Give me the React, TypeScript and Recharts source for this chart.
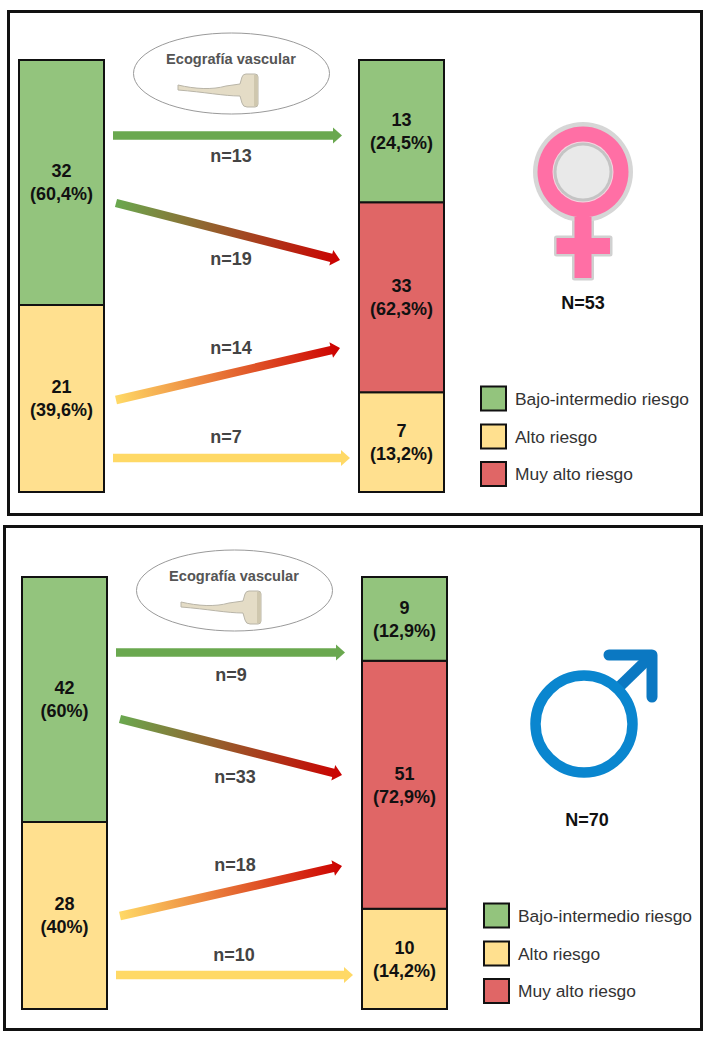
import { Bar, BarChart, LabelList, XAxis, YAxis } from "recharts";

const FONT = "'Liberation Sans', Arial, sans-serif";
const GREEN = "#93C47D";
const YELLOW = "#FFE08F";
const RED = "#E06666";

const PHASES = ["Basal", "Ecografía vascular"];
const LEGEND_NAMES = ["Bajo-intermedio riesgo", "Alto riesgo", "Muy alto riesgo"];

// block heights as drawn in the figure (% of column), they are not to scale with the counts
const WOMEN_LOW = [56.7, 32.9];
const WOMEN_HIGH = [43.3, 23.1];
const WOMEN_VERY_HIGH = [0, 44];
const MEN_LOW = [56.7, 19.4];
const MEN_HIGH = [43.3, 23.2];
const MEN_VERY_HIGH = [0, 57.4];

const WOMEN_LOW_LABELS = [["32", "(60,4%)"], ["13", "(24,5%)"]];
const WOMEN_HIGH_LABELS = [["21", "(39,6%)"], ["7", "(13,2%)"]];
const WOMEN_VERY_HIGH_LABELS = [null, ["33", "(62,3%)"]];
const MEN_LOW_LABELS = [["42", "(60%)"], ["9", "(12,9%)"]];
const MEN_HIGH_LABELS = [["28", "(40%)"], ["10", "(14,2%)"]];
const MEN_VERY_HIGH_LABELS = [null, ["51", "(72,9%)"]];

const WOMEN_FLOWS = ["n=13", "n=19", "n=14", "n=7"];
const MEN_FLOWS = ["n=9", "n=33", "n=18", "n=10"];

function blockLabel(labels: (string[] | null)[]) {
  // recharts drops the empty block from the label list, so count only the blocks that are drawn
  const drawn = labels.filter(Boolean) as string[][];
  return (props: any) => {
    const lines = drawn[props.index];
    if (!lines) return null;
    const cx = props.x + props.width / 2;
    const cy = props.y + props.height / 2;
    return (
      <g fontFamily={FONT} fontSize={18} fontWeight={700} fill="#111" textAnchor="middle">
        <text x={cx} y={cy - 5}>{lines[0]}</text>
        <text x={cx} y={cy + 18}>{lines[1]}</text>
      </g>
    );
  };
}

function Arrow({ id, from, to, colors, width = 8.5 }: any) {
  const [x1, y1] = from;
  const [x2, y2] = to;
  const len = Math.hypot(x2 - x1, y2 - y1);
  const ux = (x2 - x1) / len;
  const uy = (y2 - y1) / len;
  const nx = -uy;
  const ny = ux;
  const headLen = 9;
  const headW = 8;
  const bx = x2 - ux * headLen;
  const by = y2 - uy * headLen;
  const pts = [
    [x1 + nx * width / 2, y1 + ny * width / 2],
    [bx + nx * width / 2, by + ny * width / 2],
    [bx + nx * headW, by + ny * headW],
    [x2, y2],
    [bx - nx * headW, by - ny * headW],
    [bx - nx * width / 2, by - ny * width / 2],
    [x1 - nx * width / 2, y1 - ny * width / 2],
  ];
  return (
    <g>
      <defs>
        <linearGradient id={id} gradientUnits="userSpaceOnUse" x1={x1} y1={y1} x2={x2} y2={y2}>
          <stop offset="0%" stopColor={colors[0]} />
          <stop offset="100%" stopColor={colors[1]} />
        </linearGradient>
      </defs>
      <polygon points={pts.map((p) => p.join(",")).join(" ")} fill={`url(#${id})`} />
    </g>
  );
}

function Probe() {
  return (
    <g>
      <path
        d="M178 85 C195 89 212 90 226 86 L240 84 L242 77 Q243 74 246 74 L255 74 Q258 74 258 77 L258 104 Q258 107 255 107 L247 107 Q243 107 242 103 L240 96 C224 96 204 92 178 90 Z"
        fill="#E4DCC6"
        stroke="#B9B5A8"
        strokeWidth={1}
      />
      <rect x={254} y={75} width={3.5} height={31} fill="#CFC7AE" />
    </g>
  );
}

function FemaleIcon() {
  const cross = "M574.5 217 L591.5 217 L591.5 238 L610 238 L610 254 L591.5 254 L591.5 278 L574.5 278 L574.5 254 L556.5 254 L556.5 238 L574.5 238 Z";
  return (
    <g>
      <path d={cross} fill="#FF6FA5" stroke="#D0D0D0" strokeWidth={5} strokeLinejoin="round" />
      <circle cx={583} cy={172} r={50} fill="#D6D6D6" />
      <circle cx={583} cy={172} r={45.5} fill="#FF6FA5" />
      <circle cx={583} cy={172} r={30.5} fill="#F6D4E0" />
      <circle cx={583} cy={172} r={29.5} fill="#C4C4C4" />
      <circle cx={583} cy={172} r={26.5} fill="#E9E9E9" />
      <path d={cross} fill="#FF6FA5" />
    </g>
  );
}

function MaleIcon() {
  return (
    <g fill="none">
      <g stroke="#0B78C2" strokeWidth={11} strokeLinecap="round" strokeLinejoin="round">
        <path d="M616 690 L652 655" strokeLinecap="butt" />
        <path d="M609 655 L652 655 L652 697" />
      </g>
      <circle cx={584} cy={724} r={48.5} stroke="#0A86CF" strokeWidth={10.5} />
    </g>
  );
}

function Panel({ idPrefix, dx, dy, low, high, veryHigh, lowLabels, highLabels, veryHighLabels, flows, flowYs, arrows, total, totalPos, icon }: any) {
  const data = PHASES.map((phase, i) => ({ phase, low: low[i], high: high[i], veryHigh: veryHigh[i] }));
  const swatches = [GREEN, YELLOW, RED];
  const legendY = [398.5, 436.5, 474];
  const flowColors = [
    ["#6AA84F", "#6AA84F"],
    ["#6AA84F", "#CC0000"],
    ["#FFD966", "#CC0000"],
    ["#FFD966", "#FFD966"],
  ];
  return (
    <div style={{ position: "absolute", left: dx, top: dy, width: 711, height: 520 }}>
      <BarChart
        width={460}
        height={520}
        data={data}
        margin={{ top: 60, right: 16, bottom: 28, left: 18 }}
        style={{ position: "absolute", left: 0, top: 0 }}
      >
        <XAxis dataKey="phase" hide scale="point" padding={{ left: 43, right: 43 }} />
        <YAxis hide domain={[0, 100]} />
        <Bar dataKey="high" stackId="a" fill={YELLOW} stroke="#111" strokeWidth={2} barSize={85} isAnimationActive={false}>
          <LabelList content={blockLabel(highLabels)} />
        </Bar>
        <Bar dataKey="veryHigh" stackId="a" fill={RED} stroke="#111" strokeWidth={2} barSize={85} isAnimationActive={false}>
          <LabelList content={blockLabel(veryHighLabels)} />
        </Bar>
        <Bar dataKey="low" stackId="a" fill={GREEN} stroke="#111" strokeWidth={2} barSize={85} isAnimationActive={false}>
          <LabelList content={blockLabel(lowLabels)} />
        </Bar>
      </BarChart>
      <svg width={711} height={520} style={{ position: "absolute", left: 0, top: 0, overflow: "visible" }}>
        <ellipse cx={231.5} cy={73.5} rx={98} ry={40.5} fill="#fff" stroke="#9A9A9A" strokeWidth={1} />
        <text x={231} y={64} textAnchor="middle" fontFamily={FONT} fontSize={14.6} fontWeight={700} fill="#555">
          Ecografía vascular
        </text>
        <Probe />
        {arrows.map((a: any, i: number) => (
          <Arrow key={i} id={`${idPrefix}-flow-${i}`} from={a[0]} to={a[1]} colors={flowColors[i]} />
        ))}
        {flows.map((f: string, i: number) => (
          <text key={f} x={flowYs[i][0]} y={flowYs[i][1]} textAnchor="middle" fontFamily={FONT} fontSize={18} fontWeight={700} fill="#444">
            {f}
          </text>
        ))}
        {icon}
        <text x={totalPos[0]} y={totalPos[1]} textAnchor="middle" fontFamily={FONT} fontSize={18} fontWeight={700} fill="#111">
          {total}
        </text>
        {LEGEND_NAMES.map((name, i) => (
          <g key={name}>
            <rect x={481} y={legendY[i] - 12} width={25} height={24} fill={swatches[i]} stroke="#111" strokeWidth={2} />
            <text x={515} y={legendY[i] + 6} fontFamily={FONT} fontSize={17.4} fill="#333">
              {name}
            </text>
          </g>
        ))}
      </svg>
    </div>
  );
}

export default function App() {
  return (
    <div style={{ position: "absolute", left: 0, top: 0, width: 711, height: 1040, background: "#fff", overflow: "hidden" }}>
      <div style={{ position: "absolute", left: 7, top: 10, width: 690, height: 500, border: "3px solid #111" }} />
      <div style={{ position: "absolute", left: 3, top: 525, width: 694, height: 500, border: "3.5px solid #111" }} />
      <Panel
        idPrefix="w"
        dx={0}
        dy={0}
        low={WOMEN_LOW}
        high={WOMEN_HIGH}
        veryHigh={WOMEN_VERY_HIGH}
        lowLabels={WOMEN_LOW_LABELS}
        highLabels={WOMEN_HIGH_LABELS}
        veryHighLabels={WOMEN_VERY_HIGH_LABELS}
        flows={WOMEN_FLOWS}
        flowYs={[[231, 162], [231, 265], [231, 354], [226, 443]]}
        arrows={[
          [[113, 135.5], [342, 135.5]],
          [[116, 203], [340, 260]],
          [[116, 400], [340, 348]],
          [[113, 458], [350, 458]],
        ]}
        total="N=53"
        totalPos={[583, 309]}
        icon={<FemaleIcon />}
      />
      <Panel
        idPrefix="m"
        dx={3}
        dy={517}
        low={MEN_LOW}
        high={MEN_HIGH}
        veryHigh={MEN_VERY_HIGH}
        lowLabels={MEN_LOW_LABELS}
        highLabels={MEN_HIGH_LABELS}
        veryHighLabels={MEN_VERY_HIGH_LABELS}
        flows={MEN_FLOWS}
        flowYs={[[228, 164], [232, 266], [232, 354], [231, 444]]}
        arrows={[
          [[113, 135.5], [342, 135.5]],
          [[117, 202], [339, 258]],
          [[117, 399], [339, 349]],
          [[113, 458], [350, 458]],
        ]}
        total="N=70"
        totalPos={[584, 309]}
        icon={<g transform="translate(-3 -517)"><MaleIcon /></g>}
      />
    </div>
  );
}
